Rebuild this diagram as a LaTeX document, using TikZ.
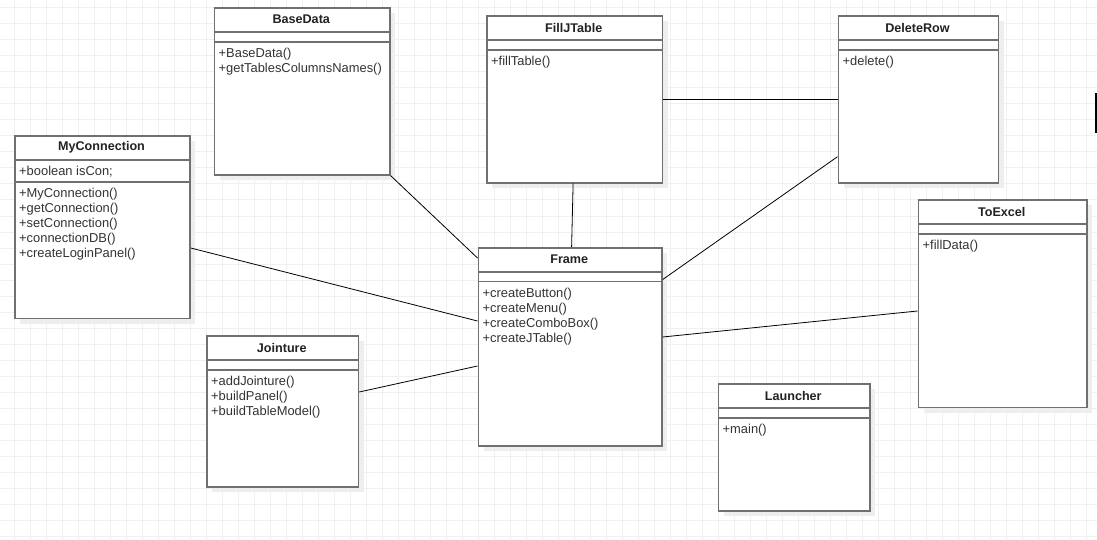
\documentclass[tikz,border=0pt]{standalone}
\usepackage{fontspec}
\setmainfont{Liberation Sans}
\usetikzlibrary{calc}

\definecolor{gridcol}{RGB}{240,240,240}
\definecolor{shadowcol}{RGB}{238,238,238}
\definecolor{boxcol}{RGB}{112,112,112}
\definecolor{textcol}{RGB}{51,51,51}
\definecolor{titlecol}{RGB}{34,34,34}

\tikzset{
  gridline/.style={draw=gridcol, line width=1pt},
  classshadow/.style={fill=shadowcol},
  classbox/.style={draw=boxcol, fill=white, line width=1.7pt, inner sep=0pt},
  classrule/.style={draw=boxcol, line width=1.7pt},
  classtitle/.style={font=\fontsize{12.6}{15}\selectfont\bfseries, text=titlecol, inner sep=0pt},
  member/.style={font=\fontsize{12.9}{15}\selectfont, text=textcol, inner sep=0pt, anchor=base west},
  assoc/.style={draw=black, line width=0.8pt},
}

% #1 name, #2 x, #3 y, #4 width, #5 height, #6 class name,
% #7 height of the attribute part, #8 attributes, #9 operations
\newcommand\umlclass[9]{%
  \fill[classshadow] (#2+6,#3+6) rectangle ++(#4,#5);
  \node[classbox, minimum width=#4pt, minimum height=#5pt, anchor=north west] (#1) at (#2,#3) {};
  \node[classtitle] (#1-title) at (#2+#4/2,#3+12.7) {#6};
  \draw[classrule] (#2,#3+25) -- ++(#4,0);
  \draw[classrule] (#2,#3+25+#7) -- ++(#4,0);
  \foreach \txt [count=\k from 0] in {#8} {\node[member] at (#2+5,#3+25+15.5+15*\k) {\txt};}
  \foreach \txt [count=\k from 0] in {#9} {\node[member] at (#2+5,#3+25+#7+15.5+15*\k) {\txt};}
}

\begin{document}
\begin{tikzpicture}[x=1pt, y=-1pt]
  \useasboundingbox (0,0) rectangle (1097,540);
  \fill[white] (0,0) rectangle (1097,540);

  % background grid
  \foreach \i in {0,...,68} \draw[gridline] ({14.7+16*\i},0) -- ++(0,540);
  \foreach \j in {0,...,33} \draw[gridline] (0,{8+16*\j}) -- ++(1097,0);

  % classes
  \umlclass{BaseData}{213.5}{7}{175.5}{167}{BaseData}{10}{}{+BaseData(),+getTablesColumnsNames()}
  \umlclass{FillJTable}{486}{15}{175.5}{167}{FillJTable}{10}{}{+fillTable()}
  \umlclass{DeleteRow}{837.5}{15}{160}{167}{DeleteRow}{10}{}{+delete()}
  \umlclass{MyConnection}{14}{135}{175}{182.5}{MyConnection}{22.3}{+boolean isCon;}{+MyConnection(),+getConnection(),+setConnection(),+connectionDB(),+createLoginPanel()}
  \umlclass{Frame}{477.5}{247}{183.5}{198}{Frame}{9.5}{}{+createButton(),+createMenu(),+createComboBox(),+createJTable()}
  \umlclass{ToExcel}{917.5}{199}{168.5}{207.5}{ToExcel}{10}{}{+fillData()}
  \umlclass{Jointure}{206}{335}{151.5}{151}{Jointure}{10}{}{+addJointure(),+buildPanel(),+buildTableModel()}
  \umlclass{Launcher}{717.5}{383}{151.5}{127}{Launcher}{10}{}{+main()}

  % associations
  \draw[assoc] (BaseData.south east) -- ($(Frame.north west)+(0,11)$);
  \draw[assoc] ($(MyConnection.north east)+(0,113)$) -- ($(Frame.north west)+(0,74)$);
  \draw[assoc] ($(Jointure.north east)+(0,57)$) -- ($(Frame.north west)+(0,119)$);
  \draw[assoc] ($(FillJTable.south)+(-1.5,0)$) -- ($(Frame.north)+(1.5,0)$);
  \draw[assoc] (FillJTable.east) -- (DeleteRow.west);
  \draw[assoc] ($(DeleteRow.south west)+(0,-27)$) -- ($(Frame.north east)+(0,32.5)$);
  \draw[assoc] ($(Frame.north east)+(0,90)$) -- ($(ToExcel.north west)+(0,112)$);

  % edge stroke at the right border
  \coordinate (edgetop) at (1096,93);
  \coordinate (edgebot) at (1096,133);
  \draw[black, line width=1.3pt] (edgetop) -- (edgebot);
\end{tikzpicture}
\end{document}
